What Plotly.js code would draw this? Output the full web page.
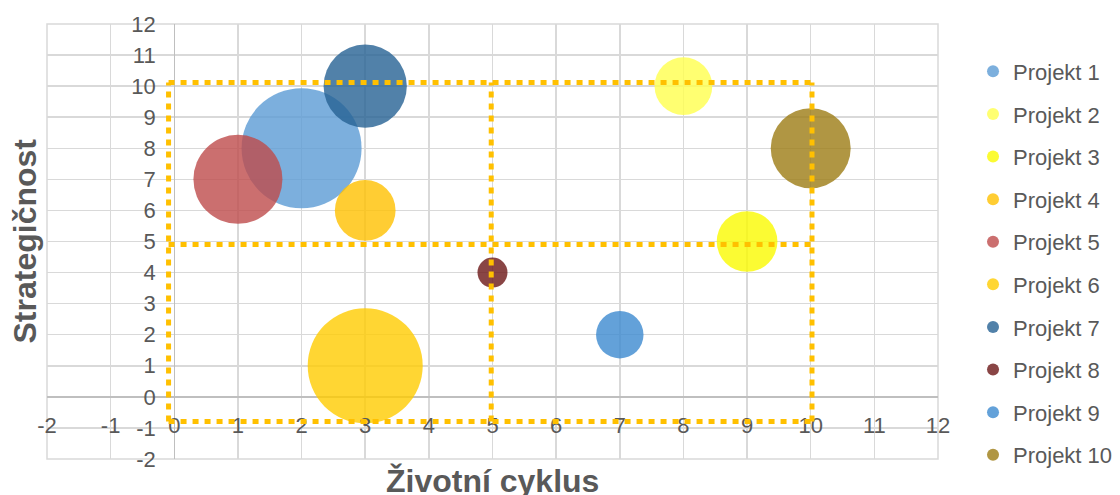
<!DOCTYPE html>
<html>
<head>
<meta charset="utf-8">
<script src="https://cdn.plot.ly/plotly-3.0.1.min.js"></script>
<style>html,body{margin:0;padding:0;background:#fff;}#chart{width:1120px;height:495px;}</style>
</head>
<body>
<div id="chart"></div>
<script>
// ---- data ----
const projectNames = ["Projekt 1","Projekt 2","Projekt 3","Projekt 4","Projekt 5","Projekt 6","Projekt 7","Projekt 8","Projekt 9","Projekt 10"];
const lifeCycle    = [2, 8, 9, 3, 1, 3, 3, 5, 7, 10];        // x: Životní cyklus
const strategic    = [8, 10, 5, 6, 7, 1, 10, 4, 2, 8];       // y: Strategičnost
const bubbleSize   = [16, 3.7, 4.1, 4.1, 8.8, 14.7, 7.7, 1.0, 2.5, 7.1];
const projectColors = ["#5B9BD5","#FFFF4D","#FAFA00","#FFC000","#BE4B4B","#FFCC00","#266294","#6C1616","#3C8ACF","#9C7C14"];

// quadrant dividing lines (data coordinates)
const quadX = [-0.09, 4.98, 10.02];
const quadY = [-0.79, 4.9, 10.12];

const tickVals  = [-2,-1,0,1,2,3,4,5,6,7,8,9,10,11,12];
const tickLabels = ["-2","-1","0","1","2","3","4","5","6","7","8","9","10","11","12"];

const axisRange = [-2, 12];
const txtColor = "#595959";
const fontFam = "Liberation Sans, Arial, sans-serif";

const traces = projectNames.map((n, i) => ({
  type: "scatter",
  mode: "markers",
  name: n,
  legendgroup: n,
  x: [lifeCycle[i]],
  y: [strategic[i]],
  marker: {
    size: [bubbleSize[i]],
    sizemode: "area",
    sizeref: 2 / 900,
    color: projectColors[i],
    opacity: 0.8,
    line: {width: 0}
  },
  cliponaxis: false,
  hoverinfo: "name+x+y"
}));

// invisible helper trace so the label axes exist
traces.push({type: "scatter", mode: "markers", x: [0], y: [0], xaxis: "x2", yaxis: "y2",
  marker: {opacity: 0}, showlegend: false, hoverinfo: "skip"});

const shapes = [
  // plot-area frame in gridline colour
  {type: "rect", xref: "paper", yref: "paper", x0: 0, x1: 1, y0: 0, y1: 1, layer: "below",
    line: {color: "#D9D9D9", width: 1.5}, fillcolor: "rgba(0,0,0,0)"}
];
const dotLine = {color: "#FFC000", width: 5, dash: "6px,6px"};
quadY.forEach(yv => shapes.push({type: "line", xref: "x", yref: "y", layer: "above",
  x0: quadX[0], x1: quadX[2], y0: yv, y1: yv, line: dotLine}));
quadX.forEach(xv => shapes.push({type: "line", xref: "x", yref: "y", layer: "above",
  x0: xv, x1: xv, y0: quadY[0], y1: quadY[2], line: dotLine}));

const gridAxis = {
  range: axisRange, tickvals: tickVals, showticklabels: false,
  showgrid: true, gridcolor: "#D9D9D9", gridwidth: 1.5,
  zeroline: true, zerolinecolor: "#BFBFBF", zerolinewidth: 1.5,
  showline: false, ticks: "", fixedrange: true
};

const labelAxis = {
  range: axisRange, tickvals: tickVals, ticktext: tickLabels,
  showgrid: false, zeroline: false, showline: false, ticks: "",
  tickfont: {size: 22, color: txtColor, family: fontFam}, fixedrange: true
};

const layout = {
  width: 1120, height: 495,
  margin: {l: 47, r: 182, t: 24, b: 36, autoexpand: false},
  paper_bgcolor: "#fff", plot_bgcolor: "#fff",
  font: {family: fontFam, color: txtColor, size: 22},
  showlegend: true,
  xaxis: Object.assign({}, gridAxis),
  yaxis: Object.assign({}, gridAxis),
  xaxis2: Object.assign({overlaying: "x", anchor: "free", position: 0.113}, labelAxis),
  yaxis2: Object.assign({overlaying: "y", anchor: "free", position: 0.122, side: "left"}, labelAxis),
  legend: {
    x: 1.0393, xanchor: "left", y: 0.939, yanchor: "top",
    font: {size: 22, color: txtColor, family: fontFam},
    itemsizing: "constant", tracegroupgap: 11, traceorder: "grouped",
    bgcolor: "rgba(0,0,0,0)", maxheight: 495
  },
  shapes: shapes,
  annotations: [
    {text: "<b>Životní cyklus</b>", xref: "paper", yref: "paper", x: 0.5, y: -0.05,
      xanchor: "center", yanchor: "middle", showarrow: false,
      font: {size: 32, color: txtColor, family: fontFam}},
    {text: "<b>Strategičnost</b>", xref: "paper", yref: "paper", x: -0.0258, y: 0.5,
      xanchor: "center", yanchor: "middle", textangle: -90, showarrow: false,
      font: {size: 32, color: txtColor, family: fontFam}}
  ]
};

Plotly.newPlot("chart", traces, layout, {displayModeBar: false, staticPlot: true});
</script>
</body>
</html>
